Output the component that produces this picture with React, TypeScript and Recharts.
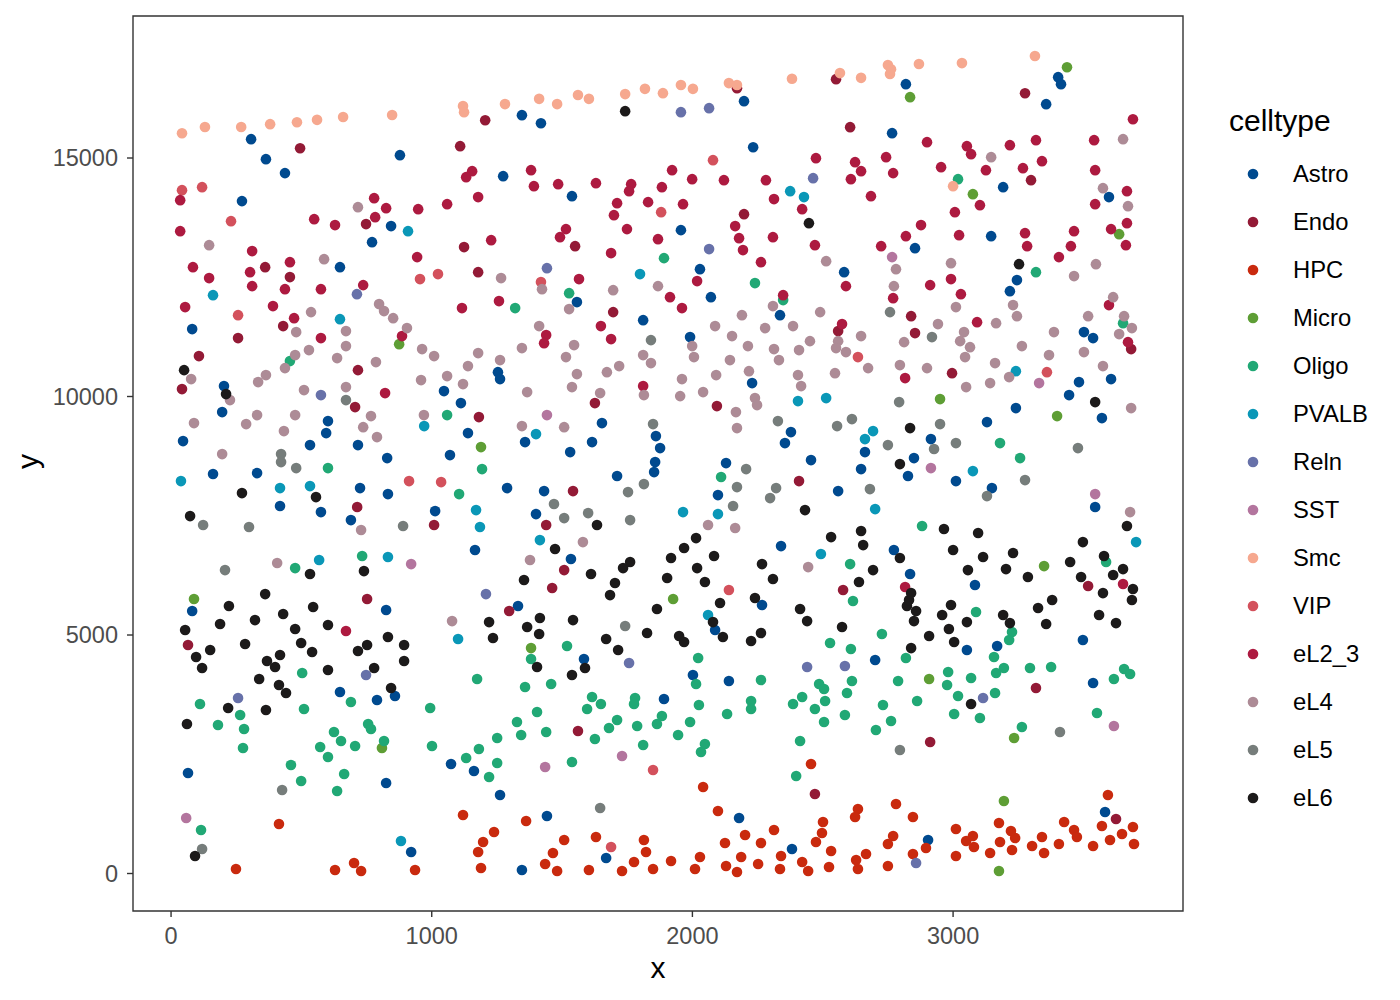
import React from 'react';
import { ScatterChart, Scatter, XAxis, YAxis, ReferenceArea, Legend } from 'recharts';

type Pt = [number, number];

const astro: Pt[] = [[307,15395],[364,14976],[437,14683],[878,15060],[272,14096],[844,13572],[771,13236],[648,12712],[1346,15898],[1419,15730],[1274,14620],[1538,14200],[2198,16192],[2233,15227],[1956,13488],[2029,12670],[1557,11979],[2071,12083],[2336,11706],[2819,16548],[2766,15521],[3403,16695],[3414,16548],[3357,16129],[3192,14389],[3598,14180],[3146,13362],[2854,13110],[2582,12607],[3245,12440],[3218,12209],[81,11413],[203,10218],[196,9673],[46,9065],[602,9484],[595,9233],[533,8981],[717,8981],[829,8709],[1047,10113],[1112,9862],[1139,9233],[1070,8772],[161,8374],[330,8394],[725,8080],[832,7954],[418,7703],[575,7577],[690,7409],[1013,7598],[1166,6781],[81,5502],[825,5523],[1811,11601],[1991,11245],[1254,10511],[1262,10365],[2229,10281],[1653,9442],[1358,9044],[1531,8835],[1615,9044],[1860,9170],[1876,8918],[1857,8625],[1853,8415],[1711,8332],[2378,9254],[2355,9023],[2455,8667],[2129,8604],[2098,7933],[1289,8080],[1431,8017],[1400,7535],[1534,6592],[2340,6864],[2267,5628],[1331,5607],[3502,11350],[3537,11224],[3483,10302],[3445,10029],[3606,10365],[3241,9757],[3571,9547],[3130,9463],[2915,9107],[2850,8709],[2827,8332],[2662,8835],[2647,8478],[2559,8017],[3011,8227],[3149,8080],[3545,7682],[2773,6781],[2835,6278],[3084,6047],[648,3804],[790,3637],[859,3720],[65,2107],[1074,2295],[1162,2148],[825,1897],[921,451],[1584,4496],[2087,5104],[2002,4161],[2140,4035],[1891,3658],[1262,1645],[1442,1205],[2179,1163],[1346,73],[1669,325],[2382,514],[3053,4685],[3169,4768],[3498,4894],[2701,4475],[3537,3993],[3583,1289],[2904,702]];
const endo: Pt[] = [[495,15206],[1109,15248],[1205,15793],[748,13614],[1124,13132],[1178,12607],[361,12712],[456,12503],[2171,16464],[2198,13823],[1550,13152],[1696,11769],[2551,16653],[2605,15647],[3276,16359],[3299,14536],[2839,11685],[430,11476],[257,11224],[107,10847],[42,10155],[717,10553],[706,9778],[714,7682],[1009,7305],[1181,9568],[752,5754],[1626,9862],[2094,9799],[1542,8017],[1439,7305],[1508,6361],[1462,5984],[1297,5502],[2559,11371],[2854,11329],[2996,10490],[3683,10994],[3518,6026],[2578,5942],[65,4789],[1561,2987],[2470,1666],[3318,3888],[2912,2756],[3625,1142],[2409,8227]];
const hpc: Pt[] = [[249,94],[414,1038],[629,73],[702,220],[729,52],[936,73],[1120,1226],[1197,660],[1178,451],[1189,115],[1239,870],[1362,1100],[1508,702],[1465,430],[1435,199],[1481,52],[1603,73],[1630,765],[1814,702],[1822,451],[1776,241],[1730,52],[1849,94],[1918,262],[2010,94],[2029,346],[2041,1813],[2098,1310],[2125,639],[2202,807],[2263,639],[2313,912],[2187,346],[2129,157],[2171,31],[2252,199],[2340,367],[2336,94],[2421,241],[2444,52],[2524,136],[2532,472],[2474,660],[2497,849],[2501,1079],[2455,2295],[2635,1352],[2624,1184],[2781,1457],[2846,1184],[2770,786],[2750,618],[2666,409],[2628,283],[2635,94],[2750,157],[2846,409],[2896,534],[3011,933],[3050,681],[3076,786],[3080,556],[3011,367],[3142,430],[3180,660],[3226,492],[3238,744],[3222,891],[3176,1058],[3303,576],[3349,430],[3341,765],[3406,618],[3426,1079],[3464,912],[3475,765],[3537,576],[3571,996],[3602,702],[3648,828],[3690,975],[3694,618],[3594,1645]];
const micro: Pt[] = [[3437,16904],[2835,16276],[3076,14242],[3637,13404],[875,11098],[88,5754],[1189,8939],[1926,5754],[2950,9946],[3399,9589],[3349,6445],[809,2630],[1381,4726],[2908,4077],[3234,2840],[3195,1520],[3176,52]];
const oligo: Pt[] = [[1891,12901],[1527,12167],[1320,11853],[2240,12377],[2348,12021],[3019,14557],[3318,12607],[456,10742],[1059,9610],[602,8499],[1105,7954],[1193,8478],[733,6655],[476,6403],[2110,8311],[3652,11538],[3180,9023],[3257,8709],[2881,7284],[2605,6487],[2616,5712],[3587,6529],[3088,5481],[503,4202],[111,3553],[265,3322],[180,3113],[280,3029],[276,2630],[510,3448],[690,3595],[994,3469],[1174,4077],[625,2966],[652,2777],[572,2651],[602,2442],[706,2672],[756,3134],[767,3029],[817,2777],[1001,2672],[1132,2421],[1181,2610],[460,2274],[499,1939],[664,2086],[637,1729],[115,912],[2528,4831],[1519,4768],[1381,4496],[2022,4517],[2263,4056],[2014,3972],[1358,3909],[1458,3972],[1615,3699],[1596,3448],[1649,3553],[1780,3678],[1776,3553],[1404,3385],[1711,3217],[1680,3050],[1788,3092],[1883,3301],[1864,3134],[1991,3175],[2025,3532],[2133,3343],[2225,3616],[2225,3448],[2386,3553],[2421,3699],[2486,3972],[2505,3867],[2509,3616],[2470,3448],[2505,3175],[1327,3175],[1343,2903],[1439,2966],[1251,2840],[1626,2819],[1945,2903],[1811,2693],[2048,2714],[2033,2547],[2413,2777],[2398,2044],[1251,2316],[1220,2023],[1538,2337],[3226,5062],[3215,4894],[2727,5020],[2608,4706],[3157,4538],[2819,4517],[3195,4307],[3165,4202],[3295,4307],[3376,4328],[3656,4286],[3679,4182],[3617,4077],[2981,4223],[3069,4098],[2612,4035],[2789,4035],[2977,3951],[2593,3784],[2862,3616],[3019,3720],[3161,3784],[2731,3532],[2585,3322],[2762,3196],[2704,3008],[3004,3343],[3103,3259],[3264,3071],[3552,3364]];
const pvalb: Pt[] = [[909,13467],[161,12125],[1799,12566],[2375,14305],[2428,14180],[648,11622],[971,9380],[38,8227],[418,8080],[533,8122],[1170,7619],[1185,7263],[568,6571],[832,6634],[1400,9212],[2405,9904],[2513,9967],[1415,6990],[1964,7577],[2098,7535],[2060,5418],[2493,6697],[3241,10532],[2693,9275],[2662,9107],[3076,8436],[2701,7640],[3702,6948],[1101,4915],[882,681]];
const reln: Pt[] = [[713,12146],[1956,15961],[2064,16045],[2463,14578],[1442,12691],[2064,13090],[575,10029],[1208,5858],[257,3678],[748,4161],[1757,4412],[2440,4328],[2585,4349],[3115,3678],[2858,220]];
const sst: Pt[] = [[2766,12922],[921,6487],[1442,9610],[3330,10281],[2915,8499],[3545,7954],[58,1163],[1435,2232],[1730,2463],[3617,3092]];
const smc: Pt[] = [[42,15520],[130,15650],[269,15650],[380,15710],[483,15750],[560,15800],[660,15860],[848,15900],[1120,16090],[1124,15960],[1281,16130],[1412,16240],[1481,16130],[1561,16320],[1603,16240],[1742,16340],[1818,16450],[1887,16360],[1956,16530],[2002,16450],[2140,16570],[2171,16530],[2382,16660],[2566,16780],[2647,16680],[2750,16950],[2762,16860],[2758,16760],[2869,16970],[3034,16990],[3314,17140],[3000,14410]];
const vip: Pt[] = [[42,14326],[119,14389],[230,13676],[955,12461],[1024,12566],[257,11706],[2079,14955],[1880,13865],[1419,12398],[913,8227],[1036,8206],[2140,5942],[2635,10826],[3360,10511],[1688,555],[1849,2169]];
const el23: Pt[] = [[35,14116],[35,13467],[779,14158],[825,13949],[783,13760],[549,13718],[629,13593],[948,13928],[1059,14033],[1178,14180],[1155,14724],[1132,14599],[311,13048],[84,12712],[146,12482],[303,12607],[456,12817],[311,12314],[437,12251],[575,12251],[737,12335],[944,12922],[54,11874],[391,11895],[1116,11853],[472,11643],[1381,14745],[1392,14410],[1485,14452],[1630,14473],[1765,14452],[1757,14305],[1883,14389],[1922,14745],[1999,14557],[2121,14536],[2282,14536],[2474,14997],[1711,14054],[1699,13802],[1830,14075],[1964,14033],[2313,14138],[2421,13928],[1749,13509],[1868,13299],[1515,13509],[1492,13341],[1228,13278],[1688,13006],[2164,13572],[2179,13320],[2194,13069],[2309,13341],[2470,13173],[2263,12817],[1565,12461],[2018,12419],[1258,12000],[1914,12083],[1960,11853],[2348,12125],[3690,15814],[3541,15374],[3318,15374],[3218,15269],[2900,15332],[3053,15248],[3069,15081],[2954,14808],[3126,14745],[3268,14787],[3341,14934],[3545,14745],[2743,15018],[2624,14913],[2647,14724],[2770,14683],[2608,14557],[2685,14200],[3667,14305],[3545,14033],[3103,14012],[3007,13865],[3667,13634],[3606,13509],[3464,13467],[2877,13593],[2819,13362],[3023,13383],[3276,13425],[3284,13152],[2724,13152],[3452,13152],[3663,13173],[3406,12922],[2992,12461],[2912,12335],[2589,12314],[3030,12146],[2770,12062],[3598,11916],[575,11224],[886,11266],[821,10071],[1439,11287],[1431,11119],[1649,11476],[1688,11203],[1811,10218],[2574,11518],[3092,11559],[3671,11140],[2816,10386],[2816,6005],[3652,6068],[671,5083]];
const el4: Pt[] = [[717,13970],[146,13173],[587,12880],[537,11769],[798,11937],[817,11790],[852,11643],[2513,12838],[1423,12251],[1696,12230],[1868,12314],[1527,11832],[1266,12482],[2309,11895],[2190,11706],[2490,11769],[3652,15395],[3146,15018],[3575,14368],[3671,13991],[2781,12670],[2773,12314],[2992,12796],[3464,12524],[3548,12775],[3614,12083],[3011,11874],[3230,11916],[3245,11685],[3518,11685],[3656,11685],[480,11350],[671,11371],[905,11434],[671,11057],[529,10973],[476,10868],[637,10805],[437,10595],[364,10449],[334,10302],[77,10365],[963,10994],[1009,10847],[1178,10910],[786,10721],[1139,10637],[1059,10428],[1120,10260],[959,10344],[510,10134],[671,10197],[226,9925],[767,9589],[970,9610],[476,9610],[330,9610],[288,9422],[88,9442],[737,9358],[790,9149],[433,9275],[196,8793],[729,7200],[407,6508],[1412,11476],[1346,11015],[1262,10763],[1546,11078],[1515,10826],[1557,10470],[1538,10197],[1672,10511],[1719,10637],[1366,10092],[1646,10071],[1811,10868],[1841,10700],[1814,10029],[1960,10365],[1953,10008],[2041,10092],[2091,10449],[1999,11057],[2006,10826],[2087,11476],[2152,11266],[2213,11057],[2144,10763],[2217,10532],[2279,11434],[2386,11476],[2313,10994],[2332,10763],[2409,10973],[2451,11161],[2405,10449],[2417,10218],[2240,9967],[2248,9820],[2167,9673],[2171,9338],[1346,9380],[1508,9358],[1580,6948],[1377,6571],[2060,7305],[2164,7242],[2444,6424],[2547,10490],[2647,11266],[2559,11161],[2551,11015],[2589,10931],[2674,10595],[2796,10658],[2900,10595],[2812,11140],[2942,11518],[3042,11350],[3027,11161],[3065,11035],[3046,10826],[3165,11538],[3387,11350],[3264,11057],[3368,10868],[3161,10700],[3215,10407],[3142,10281],[3050,10197],[3502,10931],[3575,10637],[3637,11308],[3686,11434],[3683,9757],[3679,7577],[1078,5292]];
const el5: Pt[] = [[2758,11769],[671,9925],[422,8793],[422,8625],[480,8499],[123,7305],[299,7263],[890,7284],[207,6361],[1841,11182],[1849,9422],[1814,8164],[1753,7996],[1469,7745],[1508,7451],[1600,7556],[1761,7409],[2206,8478],[2171,8101],[2156,7703],[2321,8080],[2298,7870],[2328,9484],[2919,11245],[2793,9883],[2612,9526],[2555,9380],[2950,9422],[2750,8981],[2927,8898],[3011,9023],[3479,8918],[3276,8248],[2681,8059],[3130,7912],[426,1750],[119,514],[1742,5188],[1646,1373],[3410,2966],[2796,2589]];
const el6: Pt[] = [[1742,15982],[2447,13634],[3253,12775],[50,10553],[211,10050],[272,7975],[73,7493],[556,7891],[533,6278],[740,6340],[361,5858],[222,5607],[545,5586],[322,5313],[430,5439],[1634,7305],[1473,6802],[1354,6152],[1611,6278],[1761,6529],[1734,6403],[1703,6089],[1684,5837],[1415,5355],[1542,5313],[2014,7032],[1968,6823],[1918,6613],[2083,6655],[2018,6403],[1903,6194],[2048,6110],[2267,6487],[2309,6173],[2240,5775],[2106,5670],[1864,5544],[2413,5544],[2432,7619],[2532,7053],[2835,9338],[2796,8583],[3545,9883],[2647,7179],[2655,6885],[2796,6613],[2693,6361],[2639,6110],[2965,7221],[3096,7137],[3000,6781],[3115,6634],[3230,6718],[3057,6361],[3203,6382],[3287,6215],[3449,6529],[3498,6948],[3667,7284],[3579,6655],[3491,6215],[3652,6382],[3614,6257],[3690,5963],[3686,5733],[3575,5879],[3560,5418],[3380,5733],[3326,5565],[3192,5418],[2992,5628],[2958,5418],[2858,5502],[2823,5607],[2831,5733],[2839,5879],[54,5104],[188,5230],[476,5125],[602,5209],[150,4685],[96,4538],[119,4307],[284,4810],[499,4831],[541,4643],[368,4454],[418,4580],[399,4328],[338,4077],[414,3951],[441,3783],[219,3469],[364,3427],[61,3134],[602,4265],[717,4664],[752,4789],[832,4957],[894,4789],[894,4454],[779,4307],[844,3888],[92,367],[1220,5271],[1235,4936],[1366,5167],[1412,5020],[1669,4915],[1715,4685],[1826,5041],[1949,4978],[1968,4852],[2079,5271],[2117,4957],[2225,4873],[2263,5041],[2440,5292],[1404,4328],[1588,4307],[1538,4161],[2574,5167],[2850,5292],[3053,5271],[3218,5250],[3357,5230],[3625,5250],[2984,5125],[2908,4978],[3004,4852],[2839,4726],[3069,3553]];

const celltypes = ['Astro', 'Endo', 'HPC', 'Micro', 'Oligo', 'PVALB', 'Reln', 'SST', 'Smc', 'VIP', 'eL2_3', 'eL4', 'eL5', 'eL6'];
const colors = ['#004A8F', '#931A36', '#C92A0E', '#5E9E35', '#21A875', '#0A97B7', '#6771A9', '#B3759E', '#F6A88F', '#D3515C', '#AD1A40', '#AD8B96', '#767D7B', '#1C1A1A'];
const points = [astro, endo, hpc, micro, oligo, pvalb, reln, sst, smc, vip, el23, el4, el5, el6];

const xTicks = [0, 1000, 2000, 3000];
const yTicks = [0, 5000, 10000, 15000];
const xDomain = [-146, 3882];
const yDomain = [-786, 17977];

const FONT = '"Liberation Sans", Arial, sans-serif';

const Dot = (props: any) => <circle cx={props.cx} cy={props.cy} r={5.3} fill={props.fill} />;

const CellLegend = () => (
    <div style={{ fontFamily: FONT, color: '#000' }}>
        <div style={{ fontSize: 30, height: 52, lineHeight: '46px' }}>celltype</div>
        {celltypes.map((name, i) => (
            <div key={name} style={{ height: 48, display: 'flex', alignItems: 'center', fontSize: 23.8 }}>
                <svg width={64} height={48}>
                    <circle cx={24} cy={24} r={5.3} fill={colors[i]} />
                </svg>
                {name}
            </div>
        ))}
    </div>
);

// rotated y title, centred on the panel
const YTitle = (props: any) => {
    const { x, y, height } = props.viewBox;
    const cx = x - 30;
    const cy = y + height / 2 - 2;
    return (
        <text x={cx} y={cy} transform={`rotate(-90 ${cx} ${cy})`} textAnchor="middle" dominantBaseline="middle" fontSize={30} fontFamily={FONT} fill="#000">
            y
        </text>
    );
};

export default function App() {
    return (
        <div style={{ position: 'absolute', left: 0, top: 0 }}>
            <ScatterChart width={1400} height={1000} margin={{ top: 16, right: 47, bottom: 39, left: 60 }}>
                <XAxis
                    type="number"
                    dataKey="x"
                    domain={xDomain}
                    ticks={xTicks}
                    allowDataOverflow
                    height={50}
                    axisLine={false}
                    tickSize={6}
                    tickMargin={10}
                    tickLine={{ stroke: '#333333', strokeWidth: 1.4 }}
                    tick={{ fill: '#4D4D4D', fontSize: 23.5, fontFamily: FONT }}
                    label={{ value: 'x', position: 'bottom', offset: -4, fill: '#000', fontSize: 30, fontFamily: FONT }}
                />
                <YAxis
                    type="number"
                    dataKey="y"
                    domain={yDomain}
                    ticks={yTicks}
                    allowDataOverflow
                    width={73}
                    axisLine={false}
                    tickSize={6}
                    tickMargin={9}
                    tickLine={{ stroke: '#333333', strokeWidth: 1.4 }}
                    tick={{ fill: '#4D4D4D', fontSize: 23.5, fontFamily: FONT }}
                    label={<YTitle />}
                />
                {celltypes.map((name, i) => (
                    <Scatter
                        key={name}
                        name={name}
                        data={points[i].map(([x, y]) => ({ x, y }))}
                        fill={colors[i]}
                        shape={Dot}
                        isAnimationActive={false}
                    />
                ))}
                <ReferenceArea
                    x1={xDomain[0]}
                    x2={xDomain[1]}
                    y1={yDomain[0]}
                    y2={yDomain[1]}
                    fill="none"
                    stroke="#333333"
                    strokeWidth={1.4}
                />
                <Legend
                    content={<CellLegend />}
                    layout="vertical"
                    align="right"
                    verticalAlign="middle"
                    wrapperStyle={{ position: 'absolute', left: 1229, top: 98, width: 170, height: 730 }}
                />
            </ScatterChart>
        </div>
    );
}
